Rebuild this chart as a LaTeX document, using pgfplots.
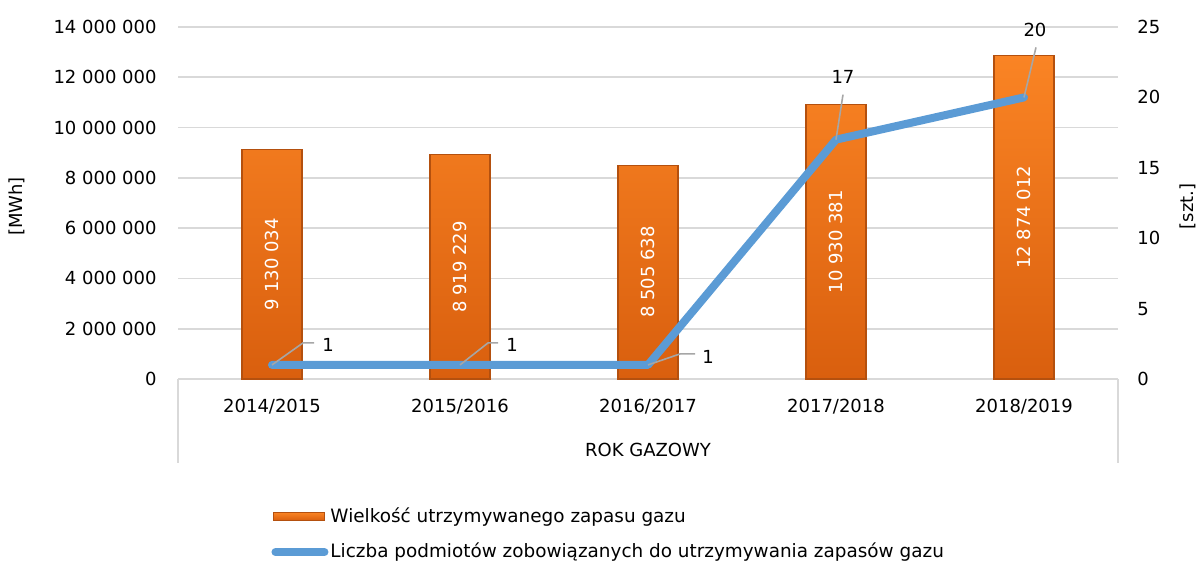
\documentclass[border=0pt]{standalone}
\usepackage{pgfplots}
\pgfplotsset{compat=1.18}
\usepackage{pgfplotstable}
\usepackage{fontspec}
\setmainfont{DejaVu Sans}
\definecolor{barTop}{HTML}{FA8424}
\definecolor{barBottom}{HTML}{D95F0E}
\definecolor{barEdge}{HTML}{B4500E}
\definecolor{lineBlue}{HTML}{5B9BD5}
\definecolor{gridc}{HTML}{D9D9D9}
\definecolor{leaderc}{HTML}{A6A6A6}

\pgfplotsset{
  barlegend/.style={legend image code/.code={\draw[##1] (0pt,-2pt) rectangle (25.5pt,2pt);}},
  linelegend/.style={legend image code/.code={\draw[##1] (1pt,0pt) -- (25.5pt,0pt);}},
}

\pgfplotstableread[col sep=comma]{
x,v,lab
0,9130034,9 130 034
1,8919229,8 919 229
2,8505638,8 505 638
3,10930381,10 930 381
4,12874012,12 874 012
}\bars

\pgfplotstableread{
x n
0 1
1 1
2 1
3 17
4 20
}\firms

\begin{document}
\begin{tikzpicture}[font=\fontsize{9}{11}\selectfont]
\begin{axis}[
  at={(89pt,-189.5pt)}, anchor=south west,
  scale only axis, width=470pt, height=176pt,
  xmin=-0.5, xmax=4.5, ymin=0, ymax=14000000,
  xtick={0,1,2,3,4},
  xticklabels={2014/2015,2015/2016,2016/2017,2017/2018,2018/2019},
  ytick={0,2000000,4000000,6000000,8000000,10000000,12000000,14000000},
  scaled y ticks=false,
  /pgf/number format/fixed,
  /pgf/number format/1000 sep={\ },
  /pgf/number format/assume math mode=true,
  axis line style={draw=none},
  major tick length=0pt, tick style={draw=none},
  ymajorgrids, grid style={draw=gridc, line width=0.8pt},
  xticklabel style={anchor=center, yshift=-14pt, inner sep=0pt},
  yticklabel style={anchor=east, inner sep=0pt, xshift=-10.5pt},
  ylabel={[MWh]},
  every axis y label/.style={at={(axis description cs:-0.1713,0.49)}, rotate=90, anchor=center},
  xlabel={ROK GAZOWY},
  every axis x label/.style={at={(axis description cs:0.5,-0.2017)}, anchor=center},
  clip=false,
  legend style={at={(0.099,-0.358)}, anchor=north west, draw=none, fill=none,
    inner sep=0pt, row sep=7pt, nodes={inner sep=1pt},
    font=\fontsize{9.2}{11}\selectfont},
  legend cell align=left,
]
\addplot[ybar, bar width=30pt, bar shift=0pt, draw=barEdge, line width=0.6pt,
  top color=barTop, bottom color=barBottom, barlegend]
  table[x=x, y=v]{\bars};
\addlegendentry{Wielkość utrzymywanego zapasu gazu}
\addplot[draw=none, forget plot, nodes near coords, point meta=explicit symbolic,
  nodes near coords align={center},
  every node near coord/.append style={anchor=center, rotate=90, text=white, inner sep=0pt,
    font=\fontsize{9}{11}\selectfont}]
  table[x=x, y expr=\thisrow{v}/2, meta=lab]{\bars};
\addlegendimage{lineBlue, line width=4pt, line cap=round, linelegend}
\addlegendentry{Liczba podmiotów zobowiązanych do utrzymywania zapasów gazu}
\draw[gridc, line width=0.8pt] (rel axis cs:0,0) -- ++(0pt,-42pt);
\draw[gridc, line width=0.8pt] (rel axis cs:1,0) -- ++(0pt,-42pt);
\end{axis}

\begin{axis}[
  at={(89pt,-189.5pt)}, anchor=south west,
  scale only axis, width=470pt, height=176pt,
  xmin=-0.5, xmax=4.5, ymin=0, ymax=25,
  xtick=\empty, ytick={0,5,10,15,20,25},
  /pgf/number format/assume math mode=true,
  axis line style={draw=none},
  major tick length=0pt, tick style={draw=none},
  yticklabel pos=right,
  yticklabel style={anchor=west, inner sep=0pt, xshift=9.5pt},
  ylabel={[szt.]},
  every axis y label/.style={at={(axis description cs:1.0745,0.49)}, rotate=90, anchor=center},
  clip=false,
]
\addplot[lineBlue, line width=4pt, line cap=round, line join=round] table[x=x, y=n]{\firms};
\draw[leaderc, line width=0.8pt] (axis cs:0,1) -- ++(15.5pt,11pt) -- ++(5.5pt,0pt);
\path (axis cs:0,1) ++(28pt,10pt) node {1};
\draw[leaderc, line width=0.8pt] (axis cs:1,1) -- ++(14pt,11pt) -- ++(5pt,0pt);
\path (axis cs:1,1) ++(26pt,10pt) node {1};
\draw[leaderc, line width=0.8pt] (axis cs:2,1) -- ++(16pt,5.5pt) -- ++(7.5pt,0pt);
\path (axis cs:2,1) ++(30pt,4pt) node {1};
\draw[leaderc, line width=0.8pt] (axis cs:3,17) -- ++(3.5pt,22.5pt);
\path (axis cs:3,17) ++(3.5pt,31.5pt) node {17};
\draw[leaderc, line width=0.8pt] (axis cs:4,20) -- ++(6pt,25pt);
\path (axis cs:4,20) ++(5.5pt,33.5pt) node {20};
\end{axis}
\pgfresetboundingbox
\path[use as bounding box] (0pt,0pt) rectangle (600pt,-281.5pt);
\end{tikzpicture}
\end{document}
